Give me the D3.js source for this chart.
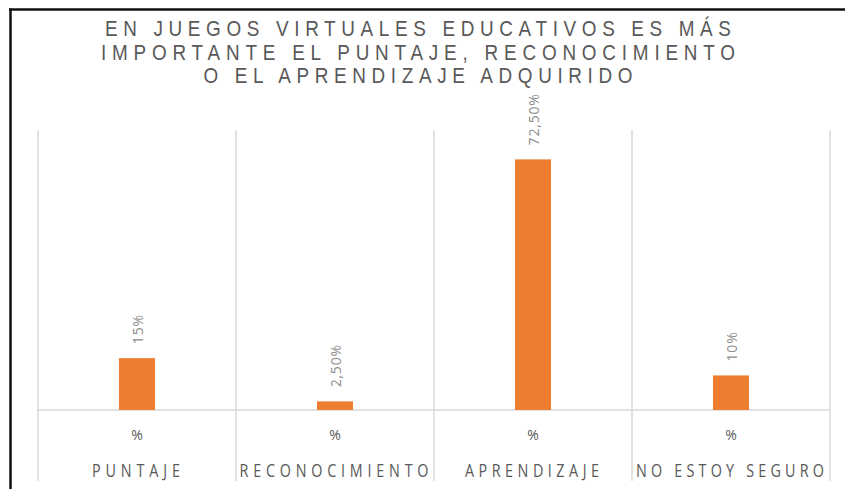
<!DOCTYPE html>
<html>
<head>
<meta charset="utf-8">
<script src="https://cdn.jsdelivr.net/npm/d3@7"></script>
<style>
  html, body { margin: 0; padding: 0; background: #fff; }
  svg { display: block; }
</style>
</head>
<body>
<svg id="chart" width="845" height="489"></svg>
<script>
// Chart data
const titleLines = [
  "EN JUEGOS VIRTUALES EDUCATIVOS ES MÁS",
  "IMPORTANTE EL PUNTAJE, RECONOCIMIENTO",
  "O EL APRENDIZAJE ADQUIRIDO",
];
const categories = ["PUNTAJE", "RECONOCIMIENTO", "APRENDIZAJE", "NO ESTOY SEGURO"];
const values = [15, 2.5, 72.5, 10];
const valueLabels = ["15%", "2,50%", "72,50%", "10%"];
const subLabels = ["%", "%", "%", "%"];

// Measured text widths from the picture
const titleWidths = [626, 634, 429];
const categoryWidths = [88, 189, 134, 188];

const svg = d3.select("#chart");

// Layout
const plot = { left: 38, right: 830, top: 130, baseline: 410, bottom: 481 };

const x = d3
  .scaleBand()
  .domain(categories)
  .range([plot.left, plot.right])
  .padding(0);

const y = d3.scaleLinear().domain([0, 81]).range([plot.baseline, plot.top]);

const barWidth = x.bandwidth() * 0.182;

// Narrow glyphs: draw wider text and squeeze it horizontally
const titleSqueeze = 0.86;
const labelSqueeze = 0.82;

// Frame (black border at top and left)
svg
  .append("line")
  .attr("x1", 9)
  .attr("x2", 845)
  .attr("y1", 9.5)
  .attr("y2", 9.5)
  .attr("stroke", "#111")
  .attr("stroke-width", 2.5);
svg
  .append("line")
  .attr("x1", 10.5)
  .attr("x2", 10.5)
  .attr("y1", 8.5)
  .attr("y2", 489)
  .attr("stroke", "#111")
  .attr("stroke-width", 2.5);

// Title
svg
  .append("g")
  .selectAll("text")
  .data(titleLines)
  .join("text")
  .attr("transform", (d, i) => `translate(418,${36 + i * 23.5}) scale(${titleSqueeze},1)`)
  .attr("text-anchor", "middle")
  .attr("textLength", (d, i) => titleWidths[i] / titleSqueeze)
  .attr("lengthAdjust", "spacing")
  .attr("font-family", "'Liberation Sans', Arial, sans-serif")
  .attr("font-size", 22)
  .attr("fill", "#595959")
  .text((d) => d);

// Vertical category separators
const edges = categories.map((c) => x(c)).concat([plot.right]);
svg
  .append("g")
  .selectAll("line")
  .data(edges)
  .join("line")
  .attr("x1", (d) => d)
  .attr("x2", (d) => d)
  .attr("y1", plot.top)
  .attr("y2", plot.bottom)
  .attr("stroke", "#d9d9d9")
  .attr("stroke-width", 1.5);

// Baseline
svg
  .append("line")
  .attr("x1", plot.left)
  .attr("x2", plot.right)
  .attr("y1", plot.baseline)
  .attr("y2", plot.baseline)
  .attr("stroke", "#d9d9d9")
  .attr("stroke-width", 1.5);

// Bars
svg
  .append("g")
  .selectAll("rect")
  .data(values)
  .join("rect")
  .attr("x", (d, i) => x(categories[i]) + (x.bandwidth() - barWidth) / 2)
  .attr("y", (d) => y(d))
  .attr("width", barWidth)
  .attr("height", (d) => y(0) - y(d))
  .attr("fill", "#ed7d31");

// Value labels (rotated)
svg
  .append("g")
  .selectAll("text")
  .data(values)
  .join("text")
  .attr("transform", (d, i) => {
    const cx = x(categories[i]) + x.bandwidth() / 2;
    return `translate(${cx},${y(d) - 14}) rotate(-90)`;
  })
  .attr("dominant-baseline", "central")
  .attr("font-family", "'Open Sans', sans-serif")
  .attr("font-size", 14)
  .attr("letter-spacing", 0.8)
  .attr("fill", "#8c8c8c")
  .text((d, i) => valueLabels[i]);

// "%" row
svg
  .append("g")
  .selectAll("text")
  .data(subLabels)
  .join("text")
  .attr("x", (d, i) => x(categories[i]) + x.bandwidth() / 2)
  .attr("y", 440)
  .attr("text-anchor", "middle")
  .attr("font-family", "'Open Sans', sans-serif")
  .attr("font-size", 14)
  .attr("fill", "#595959")
  .text((d) => d);

// Category labels
svg
  .append("g")
  .selectAll("text")
  .data(categories)
  .join("text")
  .attr("transform", (d) => `translate(${x(d) + x.bandwidth() / 2 - 1},477) scale(${labelSqueeze},1)`)
  .attr("text-anchor", "middle")
  .attr("textLength", (d, i) => categoryWidths[i] / labelSqueeze)
  .attr("lengthAdjust", "spacing")
  .attr("font-family", "'Open Sans', sans-serif")
  .attr("font-size", 17.5)
  .attr("fill", "#595959")
  .text((d) => d);
</script>
</body>
</html>
